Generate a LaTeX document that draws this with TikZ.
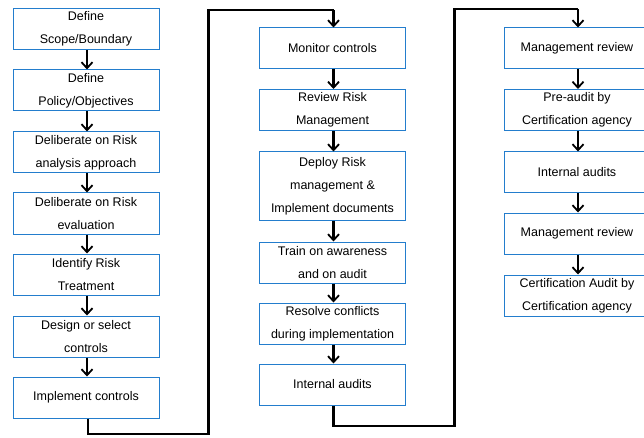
\documentclass[tikz,border=0pt]{standalone}
\usepackage{fontspec}
\setmainfont{Liberation Sans}
\usetikzlibrary{arrows.meta}
\definecolor{boxblue}{RGB}{35,125,205}
\begin{document}
\begin{tikzpicture}[x=1pt,y=-1pt,
  stepbox/.style={draw=boxblue,line width=1pt,rectangle,minimum width=146pt,minimum height=41pt,inner sep=0pt,align=center,
    font=\fontsize{12.5pt}{23pt}\selectfont,text=black},
  flow/.style={draw=black,line width=2.2pt,-{Straight Barb[length=6pt,width=11pt,line width=1.8pt]}},
  link/.style={draw=black,line width=2.2pt}]
\useasboundingbox (0,0) rectangle (644,438);
% left column
\node[stepbox] (L1) at (86,29) {Define\\Scope/Boundary};
\node[stepbox] (L2) at (86,90.5) {Define\\Policy/Objectives};
\node[stepbox] (L3) at (86,152.5) {Deliberate on Risk\\analysis approach};
\node[stepbox] (L4) at (86,213.5) {Deliberate on Risk\\evaluation};
\node[stepbox] (L5) at (86,274.5) {Identify Risk\\Treatment};
\node[stepbox] (L6) at (86,336.5) {Design or select\\controls};
\node[stepbox] (L7) at (86,397.5) {Implement controls};
% middle column
\node[stepbox] (M1) at (332.5,48.5) {Monitor controls};
\node[stepbox] (M2) at (332.5,110) {Review Risk\\Management};
\node[stepbox,minimum height=68pt] (M3) at (332.5,186) {Deploy Risk\\management \&\\Implement documents};
\node[stepbox] (M4) at (332.5,262.5) {Train on awareness\\and on audit};
\node[stepbox] (M5) at (332.5,323.5) {Resolve conflicts\\during implementation};
\node[stepbox] (M6) at (332.5,384.5) {Internal audits};
% right column
\node[stepbox] (R1) at (577,48.5) {Management review};
\node[stepbox] (R2) at (577,110) {Pre-audit by\\Certification agency};
\node[stepbox] (R3) at (577,172.5) {Internal audits};
\node[stepbox] (R4) at (577,233.5) {Management review};
\node[stepbox] (R5) at (577,295.5) {Certification Audit by\\Certification agency};
% arrows within columns
\foreach \a/\b in {L1/L2,L2/L3,L3/L4,L4/L5,L5/L6,L6/L7,M1/M2,M2/M3,M3/M4,M4/M5,M5/M6,R1/R2,R2/R3,R3/R4,R4/R5}
  \draw[flow] ([xshift=1pt]\a.south) -- ([xshift=1pt]\b.north);
% connector left -> middle
\coordinate (c2) at (208.5,434);
\coordinate (c3) at (208.5,10);
\coordinate (c4) at (333.5,10);
\draw[link] ([xshift=2pt]L7.south) |- (c2) -- (c3) -- (c4);
\draw[flow] (c4) -- ([xshift=1pt]M1.north);
% connector middle -> right
\coordinate (d2) at (454.5,426);
\coordinate (d3) at (454.5,9);
\coordinate (d4) at (578,9);
\draw[link] ([xshift=1pt]M6.south) |- (d2) -- (d3) -- (d4);
\draw[flow] (d4) -- ([xshift=1pt]R1.north);
\end{tikzpicture}
\end{document}
